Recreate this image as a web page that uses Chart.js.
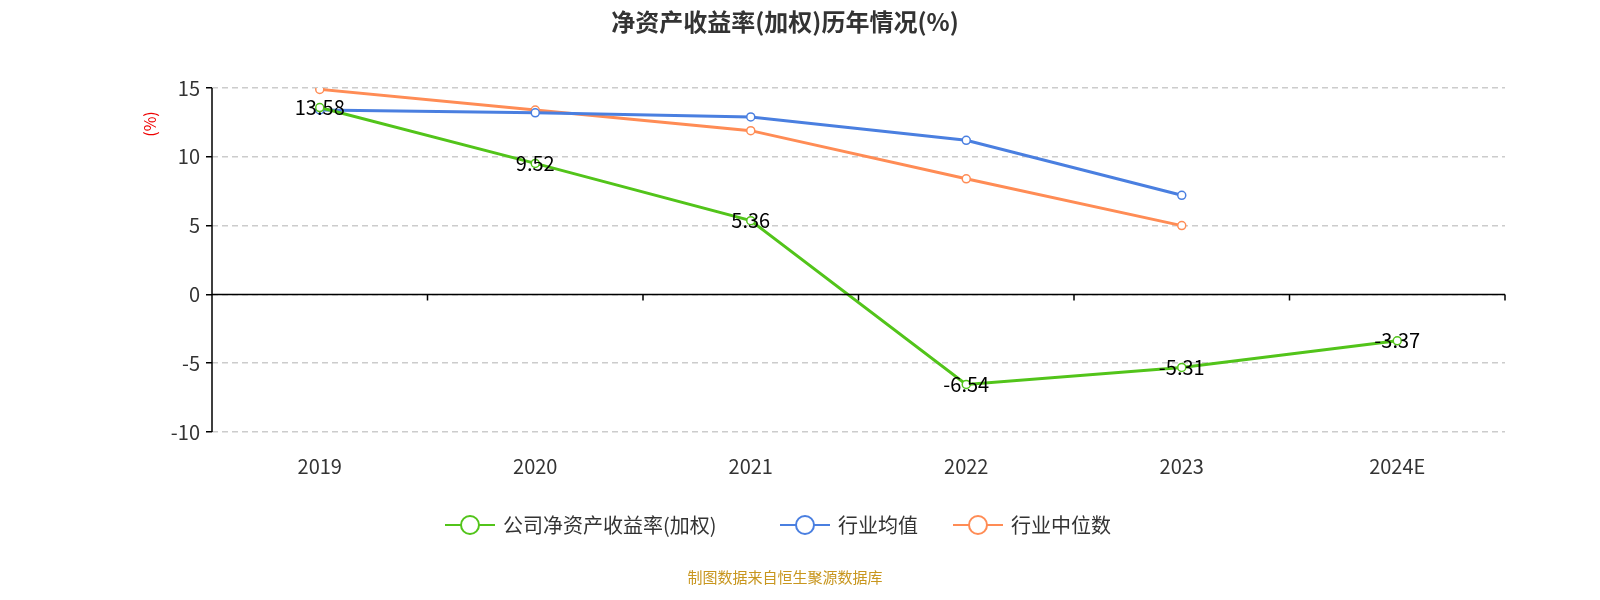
<!DOCTYPE html><html><head><meta charset="utf-8">
<script src="https://cdn.jsdelivr.net/npm/chart.js@4"></script>
<style>html,body{margin:0;padding:0;overflow:hidden;background:#fff}#w{width:1600px;height:600px}canvas{display:block}</style></head><body>
<div id="w"><canvas id="c" width="1600" height="600"></canvas></div>
<script>
const categories=['2019','2020','2021','2022','2023','2024E'];
const companyROE=[13.58,9.52,5.36,-6.54,-5.31,-3.37];
const industryAvg=[13.4,13.2,12.9,11.2,7.2,null];
const industryMedian=[14.9,13.4,11.9,8.4,5.0,null];
const yTicks=[15,10,5,0,-5,-10];
const seriesNames=['公司净资产收益率(加权)','行业均值','行业中位数'];
const colors=['#52c41a','#4a7fe0','#ff8c55'];
const F='"Noto Sans CJK SC","Noto Sans",sans-serif';
const deco={id:'deco',afterDraw(ch){
 const c=ch.ctx,x=ch.scales.x,y=ch.scales.y,a=ch.chartArea;
 c.save();
 const y0=y.getPixelForValue(0);
 c.strokeStyle='#000';c.lineWidth=1.5;c.beginPath();c.moveTo(a.left,y0);c.lineTo(a.right,y0);
 c.moveTo(a.left,a.top);c.lineTo(a.left,a.bottom);
 const step=x.getPixelForValue(1)-x.getPixelForValue(0);
 for(let i=0;i<categories.length;i++){const px=x.getPixelForValue(i)+step/2;c.moveTo(px,y0);c.lineTo(px,y0+6);}
 c.stroke();
 c.font='20px '+F;c.fillStyle='#000';c.textAlign='center';c.textBaseline='middle';
 companyROE.forEach((v,i)=>c.fillText(v.toFixed(2),x.getPixelForValue(i),y.getPixelForValue(v)));
 c.font='bold 24px '+F;c.fillStyle='#333';c.fillText('净资产收益率(加权)历年情况(%)',785,22);
 c.font='15px '+F;c.fillStyle='#c8961e';c.fillText('制图数据来自恒生聚源数据库',785,577);
 c.save();c.translate(150,124);c.rotate(-Math.PI/2);c.font='16px '+F;c.fillStyle='#e00';c.fillText('(%)',0,0);c.restore();
 const items=[[445,seriesNames[0]],[780,seriesNames[1]],[953,seriesNames[2]]];
 c.font='20px '+F;c.textAlign='left';
 items.forEach((it,i)=>{const lx=it[0],ly=525;c.strokeStyle=colors[i];c.lineWidth=2;c.beginPath();c.moveTo(lx,ly);c.lineTo(lx+50,ly);c.stroke();
  c.beginPath();c.arc(lx+25,ly,9,0,Math.PI*2);c.fillStyle='#fff';c.fill();c.stroke();c.fillStyle='#333';c.fillText(it[1],lx+58,ly);});
 c.restore();}};
const mk=(d,i)=>({label:seriesNames[i],data:d,borderColor:colors[i],backgroundColor:'#fff',borderWidth:3,pointRadius:4,pointBorderWidth:1.5,pointBackgroundColor:'#fff',pointBorderColor:colors[i],tension:0});
new Chart(document.getElementById('c'),{type:'line',
 data:{labels:categories,datasets:[mk(companyROE,0),mk(industryAvg,1),mk(industryMedian,2)]},
 plugins:[deco],
 options:{responsive:false,devicePixelRatio:1,animation:false,layout:{padding:{top:88,right:95,left:0,bottom:0}},
 plugins:{legend:{display:false},tooltip:{enabled:false}},
 scales:{x:{offset:true,grid:{display:false},border:{display:false},ticks:{font:{size:20,family:F},color:'#333',padding:14},afterFit(s){s.height=168;}},
  y:{min:-10,max:15,afterBuildTicks(s){s.ticks=yTicks.map(v=>({value:v}));},
   ticks:{font:{size:20,family:F},color:'#333',padding:6},
   grid:{color:'#ccc',lineWidth:1.5,tickColor:'#000',tickLength:6,tickBorderDash:[0,0]},
   border:{display:false,dash:[6,4]},afterFit(s){s.width=212;}}}}});
</script></body></html>
